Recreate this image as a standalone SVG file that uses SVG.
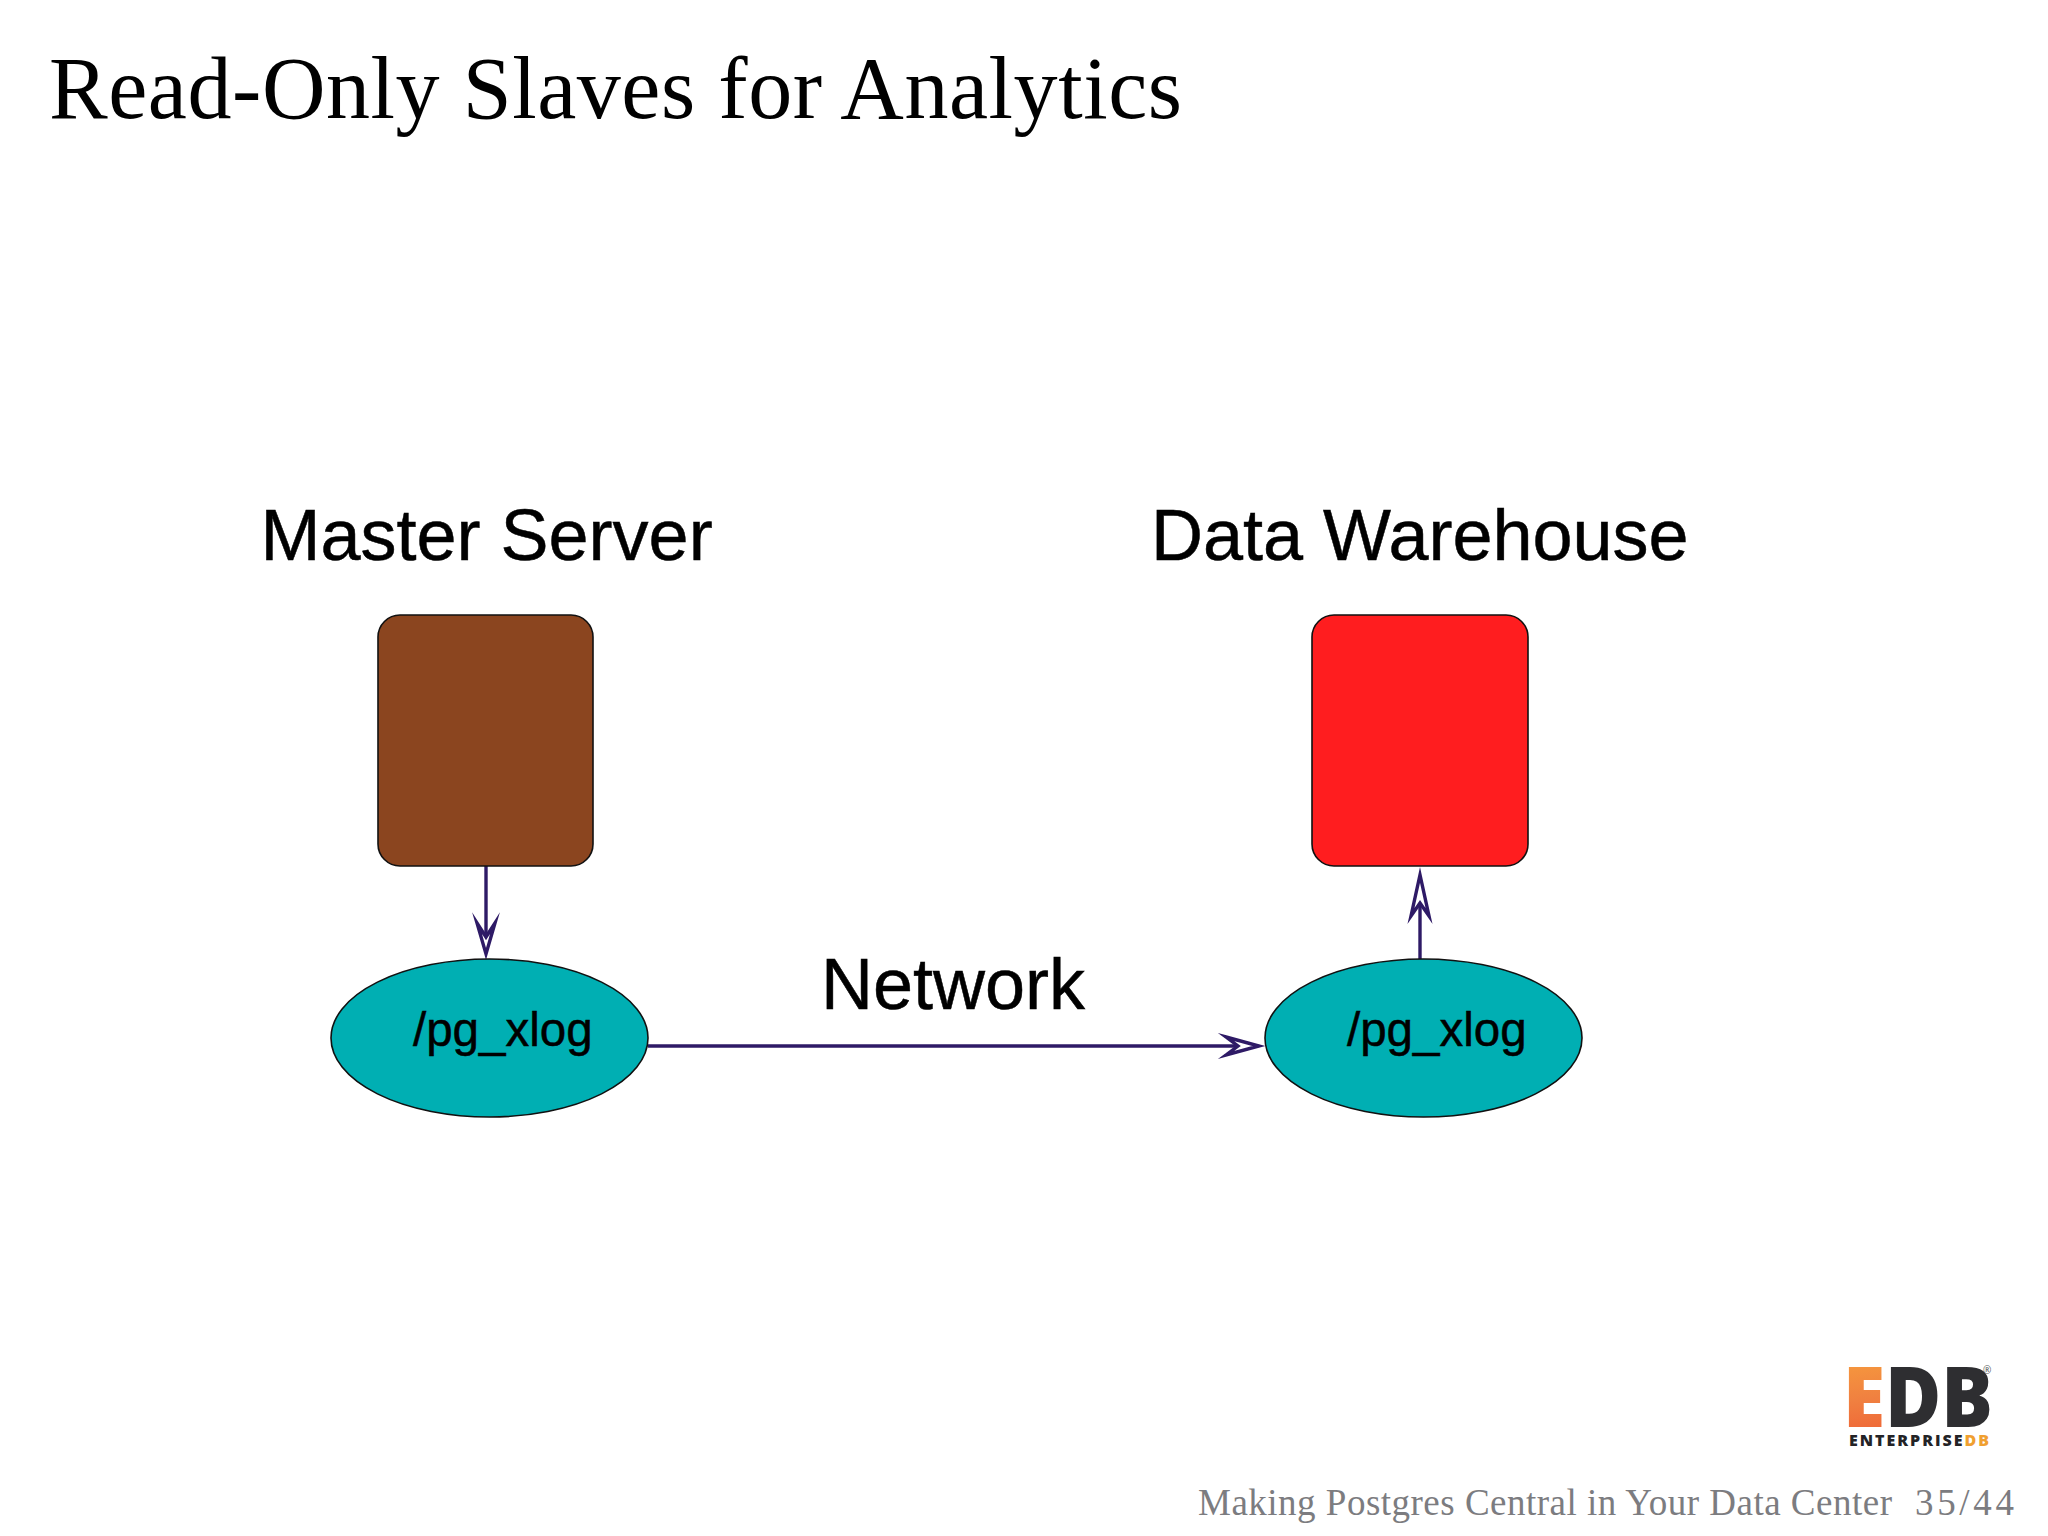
<svg xmlns="http://www.w3.org/2000/svg" width="2048" height="1536" viewBox="0 0 2048 1536">
<style>
.sans{font-family:"Liberation Sans",Arial,sans-serif;fill:#000;stroke:#000;stroke-width:.5}
.lab{font-size:72px}
.small{font-size:47.500px}
.node{stroke:#111;stroke-width:1.6}
.edge{fill:none;stroke:#2e1a66;stroke-width:3.4}
.head{fill:#fff;stroke:#2e1a66;stroke-width:3.4;stroke-linejoin:miter;stroke-miterlimit:10}
.serif{font-family:"Liberation Serif","Times New Roman",serif}
.foot{font-size:37px;fill:#7c7c80}
.logo{font-family:"Open Sans",sans-serif;font-weight:800}
</style>
<defs>
<marker id="a1" markerUnits="userSpaceOnUse" markerWidth="50" markerHeight="30" viewBox="0 0 50 30" refX="16" refY="15" orient="auto" overflow="visible"><path class="head" d="M2 6 L33 15 L2 24 L16 15 Z"/></marker>
<marker id="a2" markerUnits="userSpaceOnUse" markerWidth="60" markerHeight="30" viewBox="0 0 60 30" refX="15" refY="15" orient="auto" overflow="visible"><path class="head" d="M2 6 L43 15 L2 24 L15 15 Z"/></marker>
<marker id="a3" markerUnits="userSpaceOnUse" markerWidth="50" markerHeight="30" viewBox="0 0 50 30" refX="14" refY="15" orient="auto" overflow="visible"><path class="head" d="M2 6 L35 15 L2 24 L14 15 Z"/></marker>
<linearGradient id="eg" x1="0" y1="0" x2="0.15" y2="1"><stop offset="0" stop-color="#f9a73c"/><stop offset="0.55" stop-color="#f08040"/><stop offset="1" stop-color="#ee5a33"/></linearGradient>
</defs>
<rect width="2048" height="1536" fill="#fff"/>
<text id="title" class="serif" x="49" y="118" font-size="88" textLength="1133" lengthAdjust="spacing" fill="#000">Read-Only Slaves for Analytics</text>
<g id="edges">
<path id="e1" class="edge" d="M486 866V937" marker-end="url(#a1)"/>
<path id="e2" class="edge" d="M1420 959V903" marker-end="url(#a2)"/>
<path id="e3" class="edge" d="M648 1046H1238" marker-end="url(#a3)"/>
</g>
<g id="master"><text class="sans lab" x="260.500" y="560">Master Server</text><rect class="node" x="378" y="615" width="215" height="251" rx="22" fill="#8b451f"/></g>
<g id="warehouse"><text class="sans lab" x="1151" y="560">Data Warehouse</text><rect class="node" x="1312" y="615" width="216" height="251" rx="22" fill="#ff1d1f"/></g>
<g id="xlog1"><ellipse class="node" cx="489.500" cy="1038" rx="158.500" ry="79" fill="#00afb3"/><text class="sans small" x="413" y="1046">/pg_xlog</text></g>
<g id="xlog2"><ellipse class="node" cx="1423.500" cy="1038" rx="158.500" ry="79" fill="#00afb3"/><text class="sans small" x="1347" y="1046">/pg_xlog</text></g>
<text id="network" class="sans lab" x="821" y="1009">Network</text>
<g id="logo">
<text class="logo" x="1843" y="1427" font-size="84" textLength="150" lengthAdjust="spacingAndGlyphs" fill="#2e2e31"><tspan fill="url(#eg)">E</tspan>DB</text>
<text class="logo" x="1849" y="1446" font-size="16" textLength="140" lengthAdjust="spacing" fill="#232326">ENTERPRISE<tspan fill="#f0a030">DB</tspan></text>
<text x="1983" y="1374" font-family="'Open Sans',sans-serif" font-size="10" fill="#555">®</text>
</g>
<text id="footer" class="serif foot" x="1198" y="1515" textLength="694" lengthAdjust="spacing">Making Postgres Central in Your Data Center</text>
<text id="page" class="serif foot" x="1915" y="1515" textLength="99" lengthAdjust="spacing">35/44</text>
</svg>
